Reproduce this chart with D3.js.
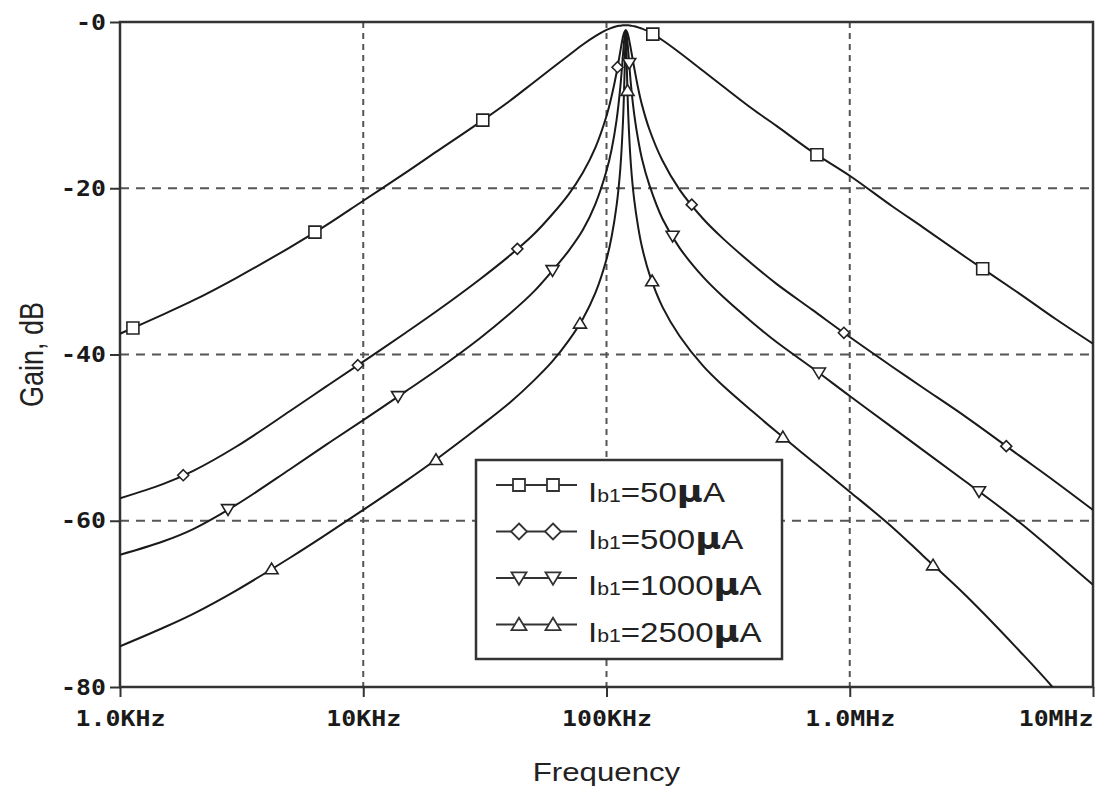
<!DOCTYPE html>
<html>
<head>
<meta charset="utf-8">
<script src="https://cdn.jsdelivr.net/npm/d3@7"></script>
<style>
  body { margin: 0; background: #fff; }
  svg { display: block; }
</style>
</head>
<body>
<svg id="chart" width="1100" height="792"></svg>
<script>
// frequency grid, Hz
const freqs = [1e3, 1.5e3, 2e3, 3e3, 5e3, 7e3, 10e3, 15e3, 20e3, 30e3, 40e3, 50e3, 60e3, 70e3, 80e3, 90e3,
  100e3, 105e3, 110e3, 114e3, 117e3, 118.5e3, 120e3, 121.5e3, 123e3, 126e3, 130e3, 135e3, 140e3, 150e3, 170e3,
  200e3, 250e3, 300e3, 400e3, 500e3, 700e3, 1e6, 1.5e6, 2e6, 3e6, 5e6, 7e6, 10e6];

// gain in dB
const gain50 = [-37.5, -35.2, -33.5, -30.8, -27.1, -24.5, -21.5, -18.1, -15.6, -12.1, -9.5, -7.3, -5.5, -4.0, -2.7, -1.7,
  -0.95, -0.7, -0.5, -0.45, -0.4, -0.4, -0.4, -0.4, -0.4, -0.45, -0.5, -0.65, -0.8, -1.2, -2.2,
  -3.7, -5.9, -7.7, -10.5, -12.5, -15.6, -18.5, -22.2, -24.7, -28.3, -32.7, -35.7, -38.7];
const gain500 = [-57.3, -55.6, -54.0, -51.1, -46.8, -43.9, -40.85, -37.35, -34.8, -31.0, -28.1, -25.6, -23.1, -20.7, -18.1, -15.1,
  -11.3, -8.9, -6.1, -3.5, -1.7, -1.2, -1.0, -1.2, -1.7, -3.3, -5.5, -8.0, -10.0, -12.9, -16.7,
  -20.2, -23.7, -26.0, -29.2, -31.5, -34.6, -37.9, -41.5, -44.0, -47.5, -52.2, -55.3, -58.7];
const gain1000 = [-64.1, -62.5, -61.0, -58.1, -53.8, -50.9, -47.9, -44.4, -41.9, -38.1, -35.1, -32.5, -29.9, -27.5, -25.0, -21.9,
  -17.9, -15.3, -11.8, -7.8, -3.8, -1.9, -1.0, -1.9, -3.7, -7.5, -11.1, -14.2, -16.5, -19.6, -23.7,
  -27.2, -30.7, -33.0, -36.2, -38.5, -41.6, -45.0, -48.8, -51.5, -55.3, -60.2, -63.8, -67.7];
const gain2500 = [-75.1, -72.9, -71.2, -68.4, -64.45, -61.7, -58.7, -55.2, -52.6, -48.7, -45.8, -43.2, -40.8, -38.3, -35.7, -32.6,
  -28.55, -25.8, -22.1, -17.6, -11.7, -6.7, -1.0, -6.6, -11.5, -17.2, -21.4, -24.7, -27.1, -30.3, -34.3,
  -37.8, -41.4, -43.7, -46.9, -49.3, -52.8, -56.5, -60.8, -64.2, -69.0, -75.7, -80.4, -86.2];

// where the symbols sit on each trace, Hz
const marks50 = [1.13e3, 6.33e3, 31e3, 155e3, 733e3, 3.52e6];
const marks500 = [1.82e3, 9.5e3, 43e3, 111e3, 224e3, 946e3, 4.4e6];
const marks1000 = [2.78e3, 13.9e3, 60e3, 124e3, 187e3, 747e3, 3.4e6];
const marks2500 = [4.2e3, 19.9e3, 77.8e3, 122e3, 154e3, 531e3, 2.2e6];

const currents = ['50', '500', '1000', '2500'];
const shapes = ['square', 'diamond', 'triDown', 'triUp'];

const xTicks = [1e3, 1e4, 1e5, 1e6, 1e7];
const xTickLabels = ['1.0KHz', '10KHz', '100KHz', '1.0MHz', '10MHz'];
const yTicks = [0, -20, -40, -60, -80];
const yTickLabels = ['-0', '-20', '-40', '-60', '-80'];

const series = [
  { cur: currents[0], gains: gain50, marks: marks50, shape: shapes[0] },
  { cur: currents[1], gains: gain500, marks: marks500, shape: shapes[1] },
  { cur: currents[2], gains: gain1000, marks: marks1000, shape: shapes[2] },
  { cur: currents[3], gains: gain2500, marks: marks2500, shape: shapes[3] }
];

const margin = { top: 22, right: 7, bottom: 105, left: 120 };
const W = 1100, H = 792;
const width = W - margin.left - margin.right;
const height = H - margin.top - margin.bottom;

const svg = d3.select('#chart');
const g = svg.append('g').attr('transform', `translate(${margin.left},${margin.top})`);

const x = d3.scaleLog().domain([1e3, 1e7]).range([0, width]);
const y = d3.scaleLinear().domain([-80, 0]).range([height, 0]);

const ink = '#1a1a1a';

// dashed grid
g.append('g').selectAll('line')
  .data(xTicks.slice(1, -1))
  .enter().append('line')
  .attr('x1', d => x(d)).attr('x2', d => x(d))
  .attr('y1', 0).attr('y2', height)
  .attr('stroke', '#555').attr('stroke-width', 2)
  .attr('stroke-dasharray', '6,5');

g.append('g').selectAll('line')
  .data(yTicks.slice(1, -1))
  .enter().append('line')
  .attr('x1', 0).attr('x2', width)
  .attr('y1', d => y(d)).attr('y2', d => y(d))
  .attr('stroke', '#555').attr('stroke-width', 2)
  .attr('stroke-dasharray', '9,7');

// axes
const xAxis = g.append('g')
  .attr('transform', `translate(0,${height})`)
  .call(d3.axisBottom(x).tickValues(xTicks).tickSize(10).tickPadding(13)
    .tickFormat((d, i) => xTickLabels[i]));

const yAxis = g.append('g')
  .call(d3.axisLeft(y).tickValues(yTicks).tickSize(10).tickPadding(2.5)
    .tickFormat((d, i) => yTickLabels[i]));

[xAxis, yAxis].forEach(a => {
  a.select('.domain').remove();
  a.selectAll('line').attr('stroke', '#333').attr('stroke-width', 2);
  a.selectAll('text')
    .attr('fill', ink)
    .style('font-family', '"DejaVu Sans Mono", monospace')
    .style('font-weight', 'bold')
    .style('font-size', '22px');
});
xAxis.selectAll('text').attr('transform', 'scale(1.13,1)');
xAxis.selectAll('text').filter((d, i) => i === xTicks.length - 1)
  .attr('text-anchor', 'end');
yAxis.selectAll('text').attr('transform', 'scale(1.13,1)');

// plot frame
g.append('rect')
  .attr('width', width).attr('height', height)
  .attr('fill', 'none').attr('stroke', '#333').attr('stroke-width', 2.5);

// traces
svg.append('defs').append('clipPath').attr('id', 'plotClip')
  .append('rect').attr('width', width).attr('height', height);

const line = d3.line()
  .x(d => x(d[0]))
  .y(d => y(d[1]))
  .curve(d3.curveCatmullRom.alpha(0.5));

const traces = g.append('g').attr('clip-path', 'url(#plotClip)');

series.forEach(s => {
  traces.append('path')
    .datum(freqs.map((f, i) => [f, s.gains[i]]))
    .attr('d', line)
    .attr('fill', 'none')
    .attr('stroke', ink)
    .attr('stroke-width', 2);
});

function gainAt(gains, f) {
  const i = d3.bisectLeft(freqs, f);
  if (freqs[i] === f) return gains[i];
  const t = (Math.log(f) - Math.log(freqs[i - 1])) / (Math.log(freqs[i]) - Math.log(freqs[i - 1]));
  return gains[i - 1] + t * (gains[i] - gains[i - 1]);
}

function shapePath(shape, s) {
  if (shape === 'square') return `M${-s},${-s}h${2 * s}v${2 * s}h${-2 * s}Z`;
  if (shape === 'diamond') return `M0,${-s}L${s},0L0,${s}L${-s},0Z`;
  if (shape === 'triDown') return `M${-s},${-s * 0.75}L${s},${-s * 0.75}L0,${s * 0.9}Z`;
  return `M0,${-s * 0.9}L${s},${s * 0.75}L${-s},${s * 0.75}Z`;
}

const markSize = { square: 6, diamond: 5.5, triDown: 6.5, triUp: 6.5 };

series.forEach(s => {
  traces.append('g').selectAll('path')
    .data(s.marks)
    .enter().append('path')
    .attr('transform', f => `translate(${x(f)},${y(gainAt(s.gains, f))})`)
    .attr('d', shapePath(s.shape, markSize[s.shape]))
    .attr('fill', '#fff')
    .attr('stroke', '#222')
    .attr('stroke-width', 1.6);
});

// legend
const legend = svg.append('g').attr('transform', 'translate(476,460)');
legend.append('rect')
  .attr('width', 306).attr('height', 199)
  .attr('fill', '#fff').attr('stroke', '#333').attr('stroke-width', 2.5);

const legendSize = { square: 6, diamond: 8, triDown: 7.5, triUp: 7.5 };

series.forEach((s, i) => {
  const row = legend.append('g').attr('transform', `translate(0,${25 + i * 46.5})`);
  row.append('line')
    .attr('x1', 20).attr('x2', 101)
    .attr('stroke', '#333').attr('stroke-width', 2);
  row.selectAll('path')
    .data([43, 77])
    .enter().append('path')
    .attr('transform', d => `translate(${d},0)`)
    .attr('d', shapePath(s.shape, legendSize[s.shape]))
    .attr('fill', '#fff').attr('stroke', '#333').attr('stroke-width', 1.8);

  const t = row.append('g').attr('transform', 'translate(112,17) scale(1.18,1)')
    .append('text')
    .attr('fill', '#222')
    .style('font-family', '"Liberation Sans", Arial, sans-serif')
    .style('font-size', '28px');
  t.append('tspan').text('I');
  t.append('tspan').style('font-size', '18px').text('b1');
  t.append('tspan').text('=' + s.cur);
  t.append('tspan')
    .style('font-family', '"DejaVu Sans", sans-serif')
    .style('font-weight', 'bold')
    .style('font-size', '30px')
    .text('\u00b5');
  t.append('tspan').text('A');
});

// axis titles
svg.append('g')
  .attr('transform', `translate(${margin.left + width / 2},781) scale(1.2,1)`)
  .append('text')
  .attr('text-anchor', 'middle')
  .attr('fill', '#222')
  .style('font-family', '"Liberation Sans", Arial, sans-serif')
  .style('font-size', '26px')
  .text('Frequency');

svg.append('g')
  .attr('transform', `translate(43,${margin.top + height / 2}) scale(1.2,1) rotate(-90)`)
  .append('text')
  .attr('text-anchor', 'middle')
  .attr('fill', '#222')
  .style('font-family', '"Liberation Sans", Arial, sans-serif')
  .style('font-size', '27px')
  .text('Gain, dB');
</script>
</body>
</html>
